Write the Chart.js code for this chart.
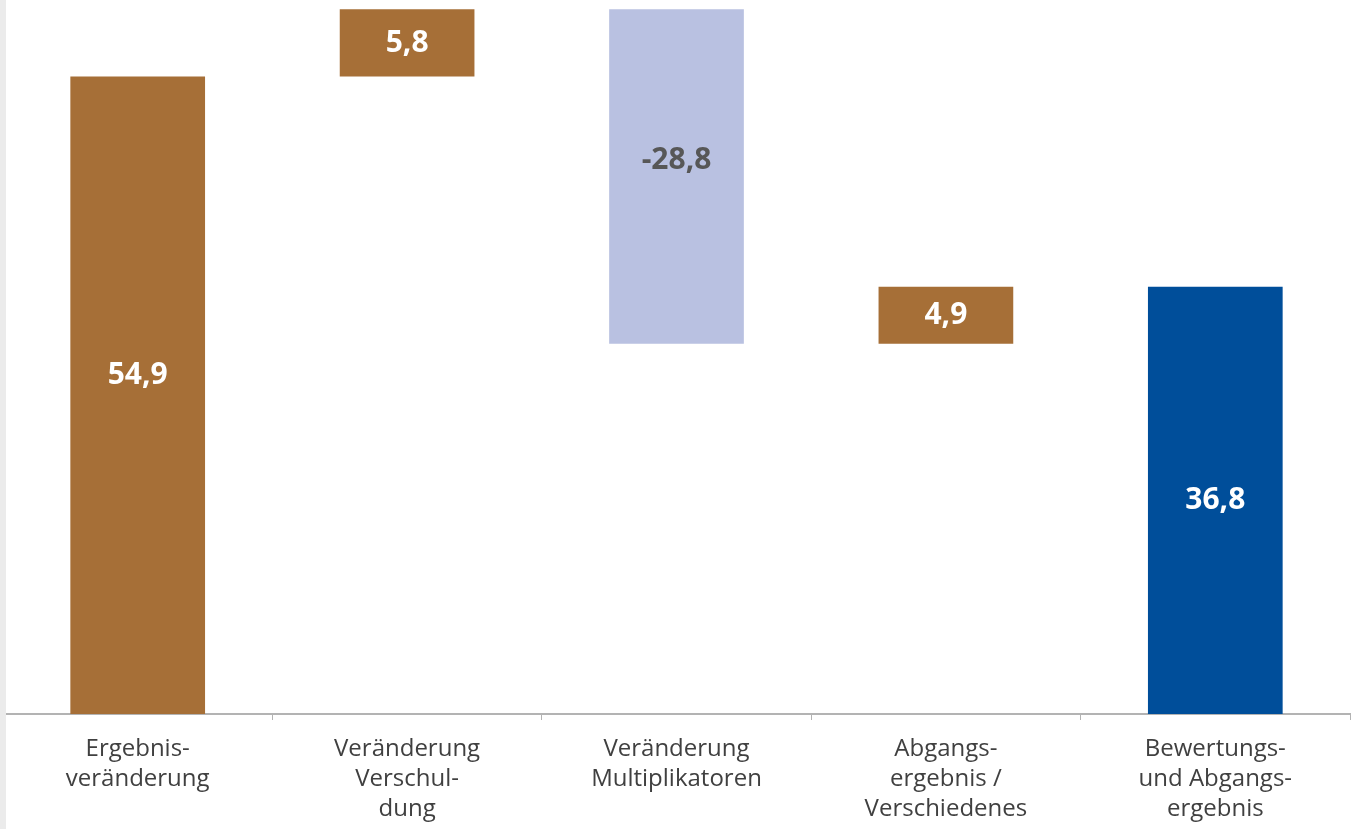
<!DOCTYPE html>
<html>
<head>
<meta charset="utf-8">
<script src="https://cdn.jsdelivr.net/npm/chart.js@4"></script>
<style>
  html, body { margin: 0; padding: 0; background: #fff; }
  #wrap { position: relative; width: 1359px; height: 829px; }
  #strip { position: absolute; left: 0; top: 0; width: 6px; height: 829px; background: #ebebeb; }
</style>
</head>
<body>
<div id="wrap"><canvas id="waterfall"></canvas><div id="strip"></div></div>
<script>
// Kategorien (mehrzeilige Beschriftung)
const categories = [
    ['Ergebnis-', 'veränderung'],
    ['Veränderung', 'Verschul-', 'dung'],
    ['Veränderung', 'Multiplikatoren'],
    ['Abgangs-', 'ergebnis /', 'Verschiedenes'],
    ['Bewertungs-', 'und Abgangs-', 'ergebnis']
];

// Einzelschritte und Endsumme
const steps = [54.9, 5.8, -28.8, 4.9];
const total = 36.8;

const barColors = ['#a66f37', '#a66f37', '#b9c1e1', '#a66f37', '#004e9a'];
const labelColors = ['#ffffff', '#ffffff', '#575757', '#ffffff', '#ffffff'];

// Schwebende Balken aus den Schritten aufbauen
const ranges = [];
const values = [];
let level = 0;
steps.forEach(s => {
    ranges.push([level, level + s]);
    values.push(s);
    level += s;
});
ranges.push([0, total]);
values.push(total);

// Werte in die Balken schreiben
const barLabels = {
    id: 'barLabels',
    afterDatasetsDraw(chart, args, opts) {
        const ctx = chart.ctx;
        const meta = chart.getDatasetMeta(0);
        ctx.save();
        ctx.font = 'bold 30px "Open Sans"';
        ctx.textAlign = 'center';
        ctx.textBaseline = 'middle';
        meta.data.forEach((bar, i) => {
            const shift = opts.shift[i] || 0;
            const y = (bar.y + bar.base) / 2 + shift;
            ctx.fillStyle = labelColors[i];
            ctx.fillText(values[i].toFixed(1).replace('.', ','), bar.x, y);
        });
        ctx.restore();
    }
};

const ctx = document.getElementById('waterfall').getContext('2d');
new Chart(ctx, {
    type: 'bar',
    data: {
        labels: categories,
        datasets: [{
            data: ranges,
            backgroundColor: barColors,
            borderWidth: 0,
            barPercentage: 0.5,
            categoryPercentage: 1.0
        }]
    },
    options: {
        responsive: true,
        maintainAspectRatio: false,
        animation: false,
        layout: { padding: { left: 3, right: 9, top: 0, bottom: 0 } },
        plugins: {
            legend: { display: false },
            tooltip: { enabled: false },
            barLabels: { shift: [-20, 0, -16, 0, 0] }
        },
        scales: {
            x: {
                offset: true,
                grid: {
                    display: true,
                    drawOnChartArea: false,
                    tickLength: 6,
                    color: '#b3b3b3',
                    offset: true
                },
                border: { color: '#b3b3b3', width: 2 },
                ticks: {
                    color: '#404040',
                    padding: 14,
                    maxRotation: 0,
                    autoSkip: false,
                    font: { family: '"Open Sans"', size: 24, lineHeight: 1.25 }
                },
                afterFit(scale) { scale.height = 829 - 714; }
            },
            y: {
                display: false,
                min: 0,
                max: 61.5
            }
        }
    },
    plugins: [barLabels]
});
</script>
</body>
</html>
